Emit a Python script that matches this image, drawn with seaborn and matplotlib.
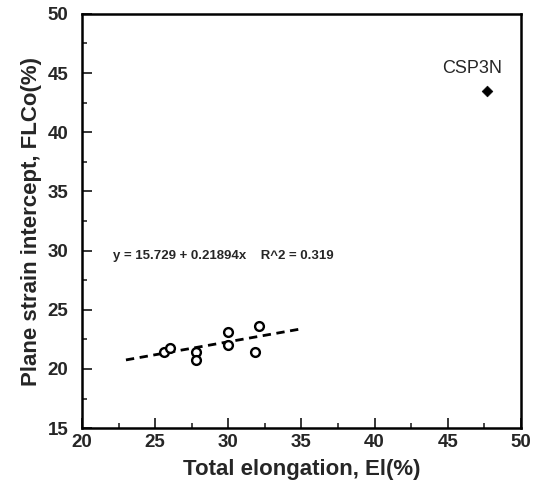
import numpy as np
import pandas as pd
import matplotlib
matplotlib.use("Agg")
import matplotlib.pyplot as plt
import seaborn as sns
from matplotlib.ticker import MultipleLocator

# -----------------------------
# DATA
# -----------------------------
elongation = [25.6, 26.0, 27.8, 27.8, 30.0, 30.0, 32.1, 31.8]
flc0 = [21.45, 21.75, 21.45, 20.75, 23.1, 22.0, 23.65, 21.4]

outlier_name = ["CSP3N"]
outlier_el = [47.7]
outlier_flc = [43.5]

fit_intercept = 15.729
fit_slope = 0.21894
fit_r2 = 0.319
fit_range = [23, 35]

x_ticks = [20, 25, 30, 35, 40, 45, 50]
y_ticks = [15, 20, 25, 30, 35, 40, 45, 50]

# -----------------------------
# STYLE
# -----------------------------
sns.set_style("ticks")
plt.rcParams["font.family"] = ["Liberation Sans", "DejaVu Sans"]
plt.rcParams["font.weight"] = "bold"

fig = plt.figure(figsize=(5.33, 4.95), dpi=100)
ax = fig.add_axes([0.154, 0.135, 0.823, 0.837])

# -----------------------------
# POINTS + FIT
# -----------------------------
pts = pd.DataFrame({"el": elongation, "flc": flc0})
sns.scatterplot(data=pts, x="el", y="flc", ax=ax, marker="o", s=40,
                facecolor="white", edgecolor="black", linewidth=1.7, zorder=3)

fit_x = np.array(fit_range, dtype=float)
fit = pd.DataFrame({"el": fit_x, "flc": fit_intercept + fit_slope * fit_x})
sns.lineplot(data=fit, x="el", y="flc", ax=ax, color="black",
             linewidth=2, zorder=2)
ax.lines[-1].set_dashes([3, 2])

out = pd.DataFrame({"el": outlier_el, "flc": outlier_flc})
sns.scatterplot(data=out, x="el", y="flc", ax=ax, marker="D", s=30,
                color="black", edgecolor="black", zorder=3)
ax.text(outlier_el[0] - 1.0, outlier_flc[0] + 1.9, outlier_name[0],
        ha="center", va="center", fontsize=13, fontweight="normal")

ax.text(22.1, 29.55,
        f"y = {fit_intercept} + {fit_slope}x    R^2 = {fit_r2}",
        ha="left", va="center", fontsize=9.5, fontweight="bold")

# -----------------------------
# AXES
# -----------------------------
ax.set_xlim(20, 50)
ax.set_ylim(15, 50)
ax.set_xticks(x_ticks)
ax.set_yticks(y_ticks)
ax.xaxis.set_minor_locator(MultipleLocator(2.5))
ax.yaxis.set_minor_locator(MultipleLocator(2.5))
ax.tick_params(which="major", direction="in", length=7, width=1.3,
               labelsize=13.5)
ax.tick_params(axis="x", which="major", pad=4)
ax.tick_params(axis="y", which="major", pad=10)
ax.tick_params(which="minor", direction="in", length=3.5, width=1.2)
for lbl in ax.get_xticklabels() + ax.get_yticklabels():
    lbl.set_fontweight("bold")
for sp in ax.spines.values():
    sp.set_visible(True)
    sp.set_linewidth(1.8)
    sp.set_color("black")

ax.set_xlabel("Total elongation, El(%)", fontsize=16, fontweight="bold",
              labelpad=6)
ax.set_ylabel("Plane strain intercept, FLCo(%)", fontsize=16,
              fontweight="bold", labelpad=4)

fig.savefig("out.png", dpi=100)
plt.close(fig)
